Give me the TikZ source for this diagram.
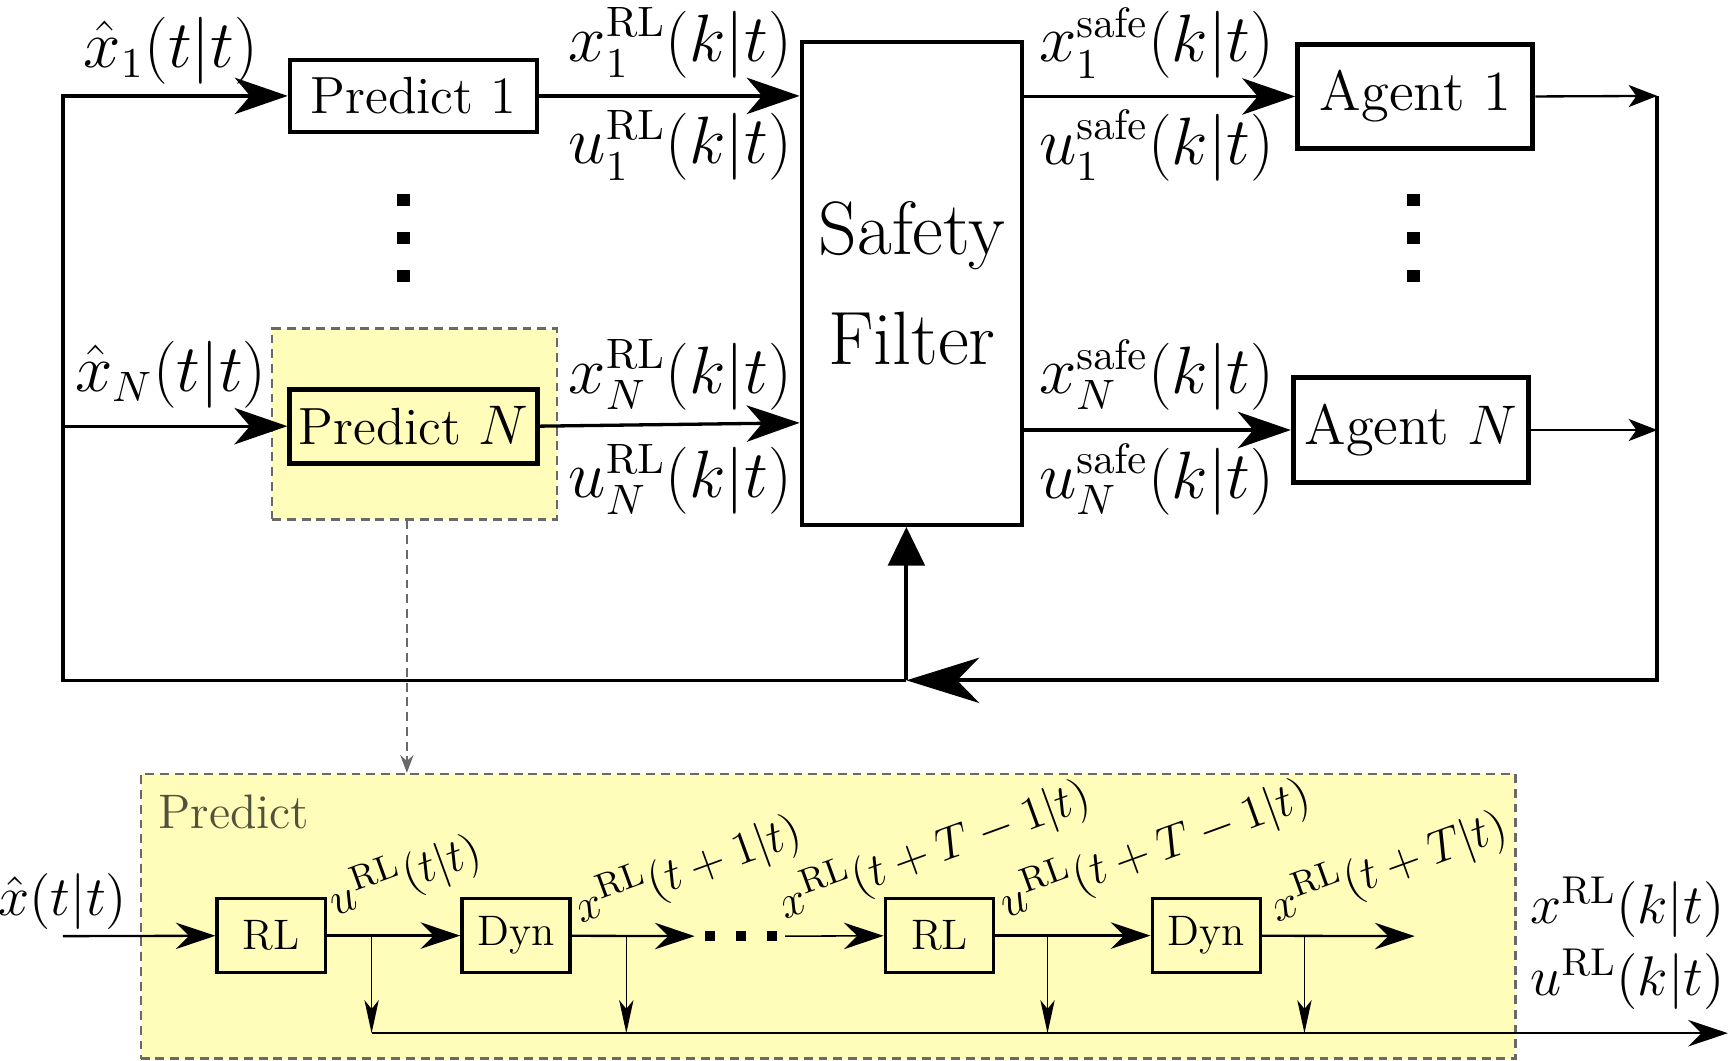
\documentclass[tikz,border=0pt]{standalone}
\usepackage{xcolor}
\usepackage{tikz}
\usetikzlibrary{arrows.meta,positioning,calc}
\definecolor{predfill}{RGB}{255,253,185}
\definecolor{predgray}{RGB}{105,105,105}
\definecolor{predtext}{RGB}{82,82,58}
\tikzset{
  sf block/.style={
    rectangle,
    draw=black,
    line width=1.15pt,
    inner sep=0pt,
    minimum width=2.24cm,
    minimum height=0.65cm,
    font=\fontsize{13.5}{16}\selectfont,
  },
  ag block/.style={
    sf block,
    line width=1.3pt,
    minimum width=2.13cm,
    minimum height=0.95cm,
    font=\fontsize{14.6}{17}\selectfont,
  },
  pr block/.style={
    rectangle,
    draw=black,
    line width=0.9pt,
    inner sep=0pt,
    minimum width=0.98cm,
    minimum height=0.67cm,
    font=\fontsize{11}{13}\selectfont,
  },
  pr area/.style={
    rectangle,
    draw=predgray,
    dash pattern=on 2.3pt off 1.5pt,
    line width=0.6pt,
    fill=predfill,
    inner sep=0pt,
  },
  sig label/.style={font=\fontsize{16.2}{19}\selectfont, inner sep=0pt},
  pr label/.style={font=\fontsize{12.5}{15}\selectfont, inner sep=0pt, rotate=20, anchor=base west},
  big arrow/.style={-{Stealth[length=4.8mm, width=3.3mm, inset=1.4mm]}, line width=0.85pt},
  loop arrow/.style={-{Stealth[length=6.6mm, width=4.1mm, inset=2mm]}, line width=1pt},
  up arrow/.style={-{Triangle[length=3.5mm, width=3.3mm]}, line width=1pt},
  out arrow/.style={-{Stealth[length=2.6mm, width=2mm, inset=0.7mm]}, line width=0.6pt},
  chain arrow/.style={-{Stealth[length=3.6mm, width=2.4mm, inset=1.2mm]}, line width=0.6pt},
  tap arrow/.style={-{Stealth[length=3mm, width=1.3mm, inset=0.8mm]}, line width=0.35pt},
  zoom arrow/.style={-{Stealth[length=1.6mm, width=1.2mm]}, draw=predgray, dash pattern=on 2.3pt off 1.5pt, line width=0.6pt},
}

\begin{document}
\begin{tikzpicture}[x=0.01cm, y=-0.01cm]
  \useasboundingbox (0,0) rectangle (1568,962);

  % upper loop
  \node[pr area, minimum width=2.58cm, minimum height=1.73cm] (pNarea) at (376,384.5) {};
  \node[sf block] (p1) at (375,87) {Predict 1};
  \node[sf block, line width=1.3pt, minimum height=0.67cm] (pN) at (375,386.5) {Predict $N$};
  \node[sf block, line width=1pt, minimum width=2cm, minimum height=4.38cm, align=center,
        font=\fontsize{19.5}{28.5}\selectfont] (sf) at (827,257) {Safety\\Filter};
  \node[ag block] (a1) at (1283.5,87.5) {Agent 1};
  \node[ag block] (aN) at (1279.5,390) {Agent $N$};

  \coordinate (ltop) at (57,87);
  \coordinate (lbot) at (57,617);
  \coordinate (rtop) at (1503,87);
  \coordinate (rmid) at (1503,390);
  \coordinate (rbot) at (1503,617);
  \coordinate (fb) at (822,617);

  \node[sig label] (xh1) at (155,46) {$\hat{x}_1(t|t)$};
  \node[sig label] (xhN) at (155,340) {$\hat{x}_N(t|t)$};
  \node[sig label] (x1rl) at (617,39) {$x_1^{\mathrm{RL}}(k|t)$};
  \node[sig label] (u1rl) at (617,132) {$u_1^{\mathrm{RL}}(k|t)$};
  \node[sig label] (xNrl) at (617,340) {$x_N^{\mathrm{RL}}(k|t)$};
  \node[sig label] (uNrl) at (617,435) {$u_N^{\mathrm{RL}}(k|t)$};
  \node[sig label] (x1sf) at (1049,39) {$x_1^{\mathrm{safe}}(k|t)$};
  \node[sig label] (u1sf) at (1049,132) {$u_1^{\mathrm{safe}}(k|t)$};
  \node[sig label] (xNsf) at (1049,340) {$x_N^{\mathrm{safe}}(k|t)$};
  \node[sig label] (uNsf) at (1049,435) {$u_N^{\mathrm{safe}}(k|t)$};

  \draw[big arrow] (fb) -- (lbot) -- (ltop) -- (p1.west);
  \draw[big arrow] (lbot |- pN.west) -- (pN.west);
  \draw[big arrow] (p1.east) -- (p1.east -| sf.west);
  \draw[big arrow] (pN.east) -- ($(pN.east -| sf.west)+(0,-3)$);
  \draw[big arrow] (sf.east |- a1.west) -- (a1.west);
  \draw[big arrow] (sf.east |- aN.west) -- (aN.west);
  \draw[out arrow] (a1.east) -- (rtop);
  \draw[out arrow] (aN.east) -- (rmid);
  \draw[loop arrow] (rtop) -- (rbot) -- (fb);
  \draw[up arrow] (fb) -- (fb |- sf.south);

  % vertical dots
  \foreach \yy in {181,216,250} {
    \fill (360,\yy-5.5) rectangle (372,\yy+5.5);
    \fill (1276,\yy-5.5) rectangle (1288,\yy+5.5);
  }

  % predict detail
  \node[pr area, minimum width=12.46cm, minimum height=2.58cm] (pred) at (751,831) {};
  \node[font=\fontsize{12.5}{15}\selectfont, text=predtext, inner sep=0pt] (predname) at (212,736) {Predict};
  \draw[zoom arrow] (pNarea.south -| 369,0) -- (pred.north -| 369,0);

  \node[pr block] (rl1) at (246,848.5) {RL};
  \node[pr block] (dyn1) at (468,848.5) {Dyn};
  \node[pr block] (rl2) at (852,848.5) {RL};
  \node[pr block] (dyn2) at (1094,848.5) {Dyn};

  \coordinate (xin) at (57,849);
  \coordinate (dotsl) at (630,849);
  \coordinate (dotsr) at (712,849);
  \coordinate (yend) at (1283,849);
  \coordinate (oend) at (1567,937);

  \node[font=\fontsize{14}{16}\selectfont, inner sep=0pt] (xhat) at (57,818) {$\hat{x}(t|t)$};
  \node[font=\fontsize{13.8}{16}\selectfont, inner sep=0pt] (xout) at (1476,823) {$x^{\mathrm{RL}}(k|t)$};
  \node[font=\fontsize{13.8}{16}\selectfont, inner sep=0pt] (uout) at (1476,888) {$u^{\mathrm{RL}}(k|t)$};

  \node[pr label] (l1) at (304,831) {$u^{\mathrm{RL}}(t|t)$};
  \node[pr label] (l2) at (527,838) {$x^{\mathrm{RL}}(t+1|t)$};
  \node[pr label] (l3) at (712,834) {$x^{\mathrm{RL}}(t+T-1|t)$};
  \node[pr label] (l4) at (912,833) {$u^{\mathrm{RL}}(t+T-1|t)$};
  \node[pr label] (l5) at (1158,837) {$x^{\mathrm{RL}}(t+T|t)$};

  \draw[chain arrow] (xin) -- (rl1);
  \draw[chain arrow] (rl1) -- (dyn1);
  \draw[chain arrow] (dyn1) -- (dotsl);
  \draw[chain arrow, line width=0.4pt] (dotsr) -- (rl2);
  \draw[chain arrow] (rl2) -- (dyn2);
  \draw[chain arrow] (dyn2) -- (yend);

  \foreach \xx in {644,672,700}
    \fill (\xx-4.5,844.5) rectangle (\xx+4.5,853.5);

  \foreach \xx/\nn in {337/t1,568/t2,950/t3,1183/t4} {
    \coordinate (\nn) at (\xx,849);
    \draw[tap arrow] (\nn) -- (\nn |- oend);
  }
  \draw[chain arrow, line width=0.6pt] (t1 |- oend) -- (oend);
\end{tikzpicture}
\end{document}
